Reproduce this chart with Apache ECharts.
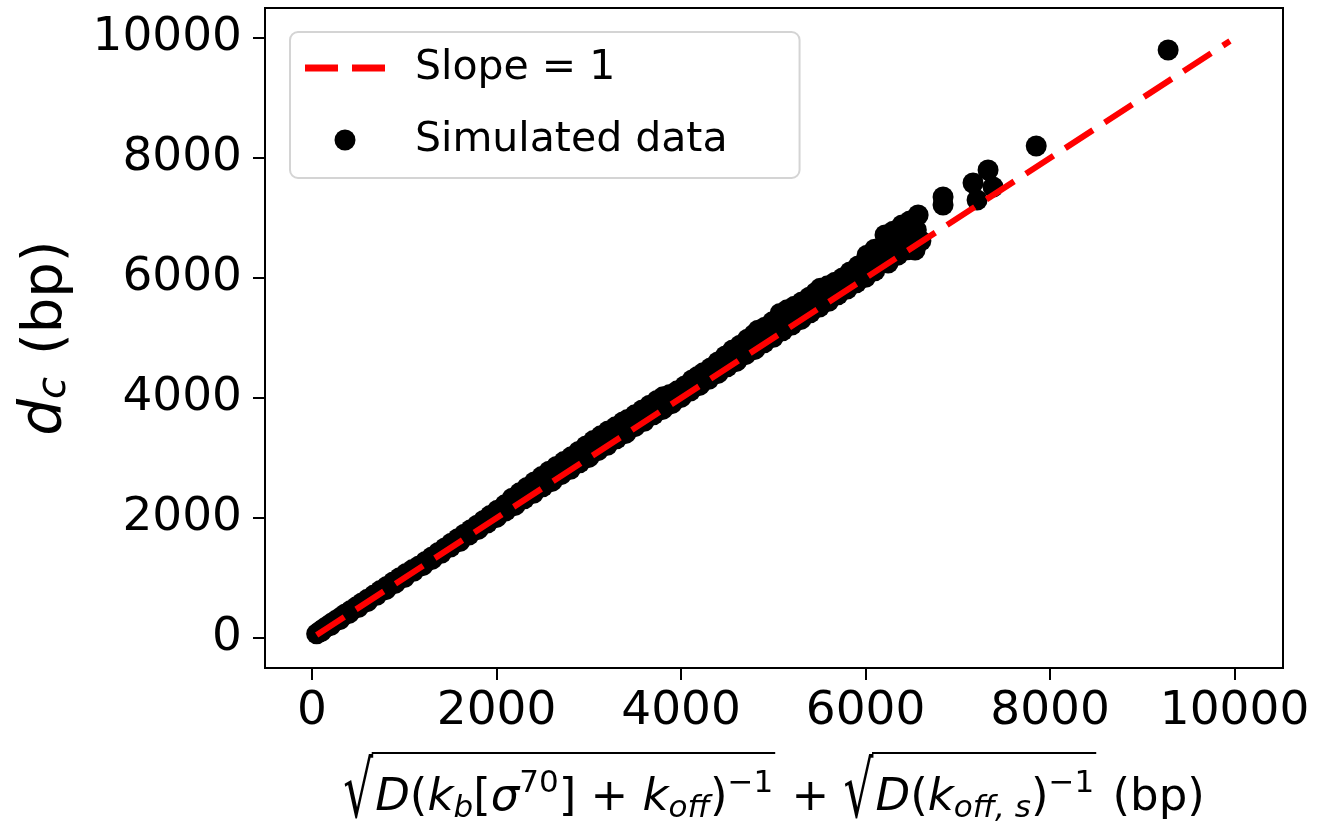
<!DOCTYPE html>
<html><head><meta charset="utf-8">
<script src="https://cdn.jsdelivr.net/npm/echarts@6/dist/echarts.min.js"></script>
<style>html,body{margin:0;padding:0;background:#fff}#c{width:1328px;height:823px}</style>
</head><body><div id="c"></div>
<script>
// ---------------- data ----------------
const tickValues = [0, 2000, 4000, 6000, 8000, 10000];
const xLimits = [-510, 10525];
const yLimits = [-500, 10500];

const lineName = 'Slope = 1';
const lineX = [50, 9950];
const lineY = [50, 9950];

const simName = 'Simulated data';
// upper edge of the point cloud
const upperX = [50,90,130,170,210,260,310,360,420,480,540,600,670,740,810,880,950,1020,1090,1160,
  1230,1300,1370,1440,1510,1580,1650,1720,1790,1860,1930,2010,2090,2170,2250,2330,2410,2490,2570,2650,
  2730,2810,2890,2970,3050,3130,3210,3290,3370,3420,3500,3580,3660,3740,3805,3880,3960,4040,4120,4180,
  4240,4320,4400,4480,4560,4640,4720,4790,4835,4910,4990,5073,5150,5230,5310,5390,5460,5510,5590,5670,
  5750,5832,5920,6016,6100,6211,6300,6396,6480,6570,6840,6840,7165,7209,7328,7382,7850,9280];
const upperY = [70,115,160,200,245,295,345,400,460,520,585,645,715,790,860,935,1005,1075,1140,1200,
  1275,1350,1425,1500,1580,1655,1730,1805,1880,1960,2040,2130,2220,2330,2420,2510,2600,2690,2780,2860,
  2940,3020,3110,3200,3290,3370,3450,3520,3600,3640,3720,3800,3880,3960,4020,4060,4120,4200,4300,4360,
  4420,4500,4600,4700,4800,4880,4980,5060,5130,5180,5270,5410,5470,5530,5600,5680,5760,5830,5870,5930,
  6000,6100,6200,6380,6480,6717,6780,6883,6950,7050,7350,7217,7583,7300,7800,7517,8200,9800];
// points lying on the slope-1 line
const onLineX = [100,200,300,400,500,600,700,800,900,1000,1100,1200,1300,1400,1500,1600,1700,1800,1900,2000,
  2100,2200,2300,2400,2500,2600,2700,2800,2900,3000,3100,3200,3300,3400,3500,3600,3700,3800,3900,4000,
  4100,4200,4300,4400,4500,4600,4700,4800,4900,5000,5100,5200,5300,5400,5500,5600,5700,5800,5900,6000,
  6100,6244,6350,6450,6537,6600];
const onLineY = [105,208,305,410,508,606,712,806,910,1008,1112,1206,1310,1412,1515,1608,1716,1810,1915,2010,
  2118,2210,2320,2412,2520,2610,2722,2812,2920,3010,3122,3212,3320,3410,3522,3612,3720,3810,3905,4010,
  4115,4210,4312,4410,4520,4610,4722,4810,4920,5012,5120,5215,5310,5420,5515,5612,5720,5815,5920,6012,
  6120,6250,6380,6470,6467,6620];
// points in between
const midX = [2500,3000,3500,4000,4500,5000,5300,5600,5800,6000,6150,6300,6450,6550];
const midY = [2600,3120,3640,4120,4650,5150,5450,5750,5960,6200,6400,6550,6700,6800];

const xNameParts = [
  ['√','r'],['D','i'],['(','n'],['k','i'],['b','bi'],['[','n'],['σ','i'],['70','pn'],[']','n'],
  [' + ','n'],['k','i'],['off','bi'],[')','n'],['−1','pn'],['','end'],
  [' + ','n'],
  ['√','r'],['D','i'],['(','n'],['k','i'],['off, s','bi'],[')','n'],['−1','pn'],['','end'],
  [' (bp)','n']
];

// ---------------- build ----------------
const FF = 'DejaVu Sans';
const simData = [];
[[upperX, upperY], [onLineX, onLineY], [midX, midY]].forEach(([xs, ys]) => {
  xs.forEach((v, i) => simData.push([v, ys[i]]));
});
const lineData = lineX.map((v, i) => [v, lineY[i]]);

const W = 1328, H = 823;
const grid = {left: 265, right: 45, top: 8, bottom: 155};
const plotCenterX = grid.left + (W - grid.left - grid.right) / 2;

// math-like x axis title laid out as real text pieces
const cv = document.createElement('canvas').getContext('2d');
function setFont(size, it) { cv.font = (it ? 'italic ' : '') + size + 'px "' + FF + '"'; }
function meas(t, size, it) { setFont(size, it); cv.textBaseline = 'middle'; return cv.measureText(t); }
function midOffset(size, it) {
  const m = meas('x', size, it);
  const d = m.actualBoundingBoxDescent;
  return (typeof d === 'number' && isFinite(d)) ? d : 0.3 * size;
}
const S = 45, SS = Math.round(0.7 * S), base = 810, barY = 753, radBottom = 819, RS = 47;
const pieces = []; const bars = [];
let cx = 0, barStart = 0;
xNameParts.forEach(([t, k]) => {
  if (k === 'r') {
    const m = meas('√', RS, false);
    const h = m.actualBoundingBoxAscent + m.actualBoundingBoxDescent;
    const sy = (radBottom - barY) / h;
    pieces.push({t: '√', x: cx, size: RS, it: false, yMid: barY + m.actualBoundingBoxAscent * sy, sy});
    const right = cx + m.actualBoundingBoxRight;
    barStart = right - 1.5;
    cx = right + 2;
    return;
  }
  if (k === 'end') { bars.push([barStart, cx + 2]); cx += 4; return; }
  const sub = k === 'bi', sup = k === 'pn';
  const size = (sub || sup) ? SS : S;
  const it = (k === 'i' || k === 'bi');
  const b = base + (sub ? 7 : sup ? -18 : 0);
  const w = meas(t, size, it).width;
  pieces.push({t, x: cx, size, it, yMid: b - midOffset(size, it)});
  cx += w;
});
const x0 = plotCenterX - cx / 2;
const graphicEls = [];
pieces.forEach(p => graphicEls.push({
  type: 'text', silent: true, x: x0 + p.x, y: p.yMid,
  scaleY: p.sy || 1,
  style: {text: p.t, fontSize: p.size, fontFamily: FF, fontStyle: p.it ? 'italic' : 'normal',
          fill: '#000', align: 'left', verticalAlign: 'middle'}
}));
bars.forEach(([a, b]) => graphicEls.push({
  type: 'line', silent: true,
  shape: {x1: x0 + a, y1: barY, x2: x0 + b, y2: barY},
  style: {stroke: '#000', lineWidth: 2}
}));

const axisCommon = {
  type: 'value',
  splitLine: {show: false},
  axisLine: {show: true, onZero: false, lineStyle: {color: '#000', width: 2}},
  axisTick: {show: true, customValues: tickValues, length: 12, lineStyle: {color: '#000', width: 2}},
};
const plainNum = v => String(v);

const option = {
  animation: false,
  backgroundColor: '#fff',
  grid: Object.assign({show: true, borderColor: '#000', borderWidth: 2, backgroundColor: 'transparent',
                       containLabel: false, outerBoundsMode: 'none'}, grid),
  xAxis: Object.assign({}, axisCommon, {
    min: xLimits[0], max: xLimits[1],
    axisLabel: {customValues: tickValues, formatter: plainNum, fontSize: 47, fontFamily: FF, color: '#000', margin: 20}
  }),
  yAxis: Object.assign({}, axisCommon, {
    min: yLimits[0], max: yLimits[1],
    axisLabel: {customValues: tickValues, formatter: plainNum, fontSize: 47, fontFamily: FF, color: '#000', margin: 23},
    name: '{d|d}{c|c} (bp)',
    nameLocation: 'middle', nameRotate: 90, nameGap: 190,
    nameTextStyle: {
      fontSize: 56, fontFamily: FF, color: '#000',
      rich: {
        d: {fontSize: 58, fontFamily: FF, fontStyle: 'italic', color: '#000'},
        c: {fontSize: 40, fontFamily: FF, fontStyle: 'italic', color: '#000', verticalAlign: 'bottom', lineHeight: 22,
            padding: [0, 4, 0, 0]}
      }
    }
  }),
  legend: {
    orient: 'vertical', left: 290, top: 32,
    padding: [12, 72, 14, 15],
    itemWidth: 80, itemHeight: 21, itemGap: 24,
    backgroundColor: 'rgba(255,255,255,0.8)', borderColor: '#d4d4d4', borderWidth: 2, borderRadius: 8,
    textStyle: {fontSize: 41, fontFamily: FF, color: '#000', lineHeight: 48, padding: [0, 0, 0, 25]},
    data: [
      {name: lineName, icon: 'path://M0 0H33V7H0ZM47 0H80V7H47Z', itemStyle: {color: '#ff0000', borderWidth: 0}},
      {name: simName, icon: 'circle', itemStyle: {color: '#000', borderWidth: 0}}
    ]
  },
  graphic: {elements: graphicEls},
  series: [
    {
      name: simName, type: 'scatter', data: simData, symbol: 'circle', symbolSize: 21, z: 2,
      itemStyle: {color: '#000', opacity: 1}, emphasis: {disabled: true}
    },
    {
      name: lineName, type: 'line', data: lineData, symbol: 'none', showSymbol: false, z: 3,
      lineStyle: {color: '#ff0000', width: 6, type: [33, 14]}, itemStyle: {color: '#ff0000'},
      emphasis: {disabled: true}
    }
  ]
};
const chart = echarts.init(document.getElementById('c'));
chart.setOption(option);
</script>
</body></html>
